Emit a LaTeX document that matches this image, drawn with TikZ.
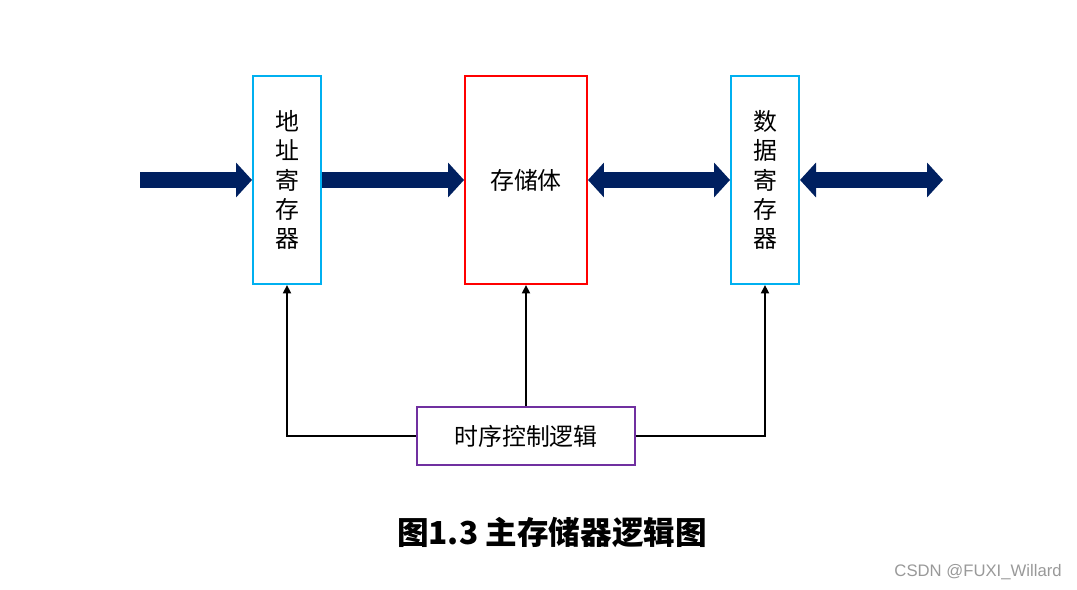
\documentclass[tikz,border=0pt]{standalone}
\usepackage{fontspec}
\setmainfont{Liberation Sans}
\newfontfamily\cjk{Noto Sans CJK SC}
\usepackage{tikz}
\usetikzlibrary{arrows.meta, positioning}
\definecolor{regblue}{HTML}{00B0F0}
\definecolor{busnavy}{HTML}{002060}
\definecolor{ctrlpurple}{HTML}{7030A0}

\begin{document}
\begin{tikzpicture}[x=0.02cm, y=-0.02cm,
    reg/.style={draw=regblue, line width=0.04cm, minimum width=1.36cm, minimum height=4.16cm,
      inner sep=0pt, align=center, font=\cjk\fontsize{13.6}{16.6}\selectfont},
    bus/.style={busnavy, line width=0.32cm, -{Triangle[width=0.68cm, length=0.32cm]}},
    dbus/.style={busnavy, line width=0.32cm,
      {Triangle[width=0.68cm, length=0.32cm]}-{Triangle[width=0.68cm, length=0.32cm]}},
    ctl/.style={line width=0.055cm, -{Triangle[width=0.16cm, length=0.17cm]}}]
  \useasboundingbox (0,0) rectangle (1077,590);
  \node[reg] (addr) at (287,180) {地\\址\\寄\\存\\器};
  \node[reg, draw=red, minimum width=2.44cm] (mem) at (526,180) {存储体};
  \node[reg] (data) at (765,180) {数\\据\\寄\\存\\器};
  \node[draw=ctrlpurple, line width=0.04cm, minimum width=4.38cm, minimum height=1.16cm,
    font=\cjk\fontsize{13.6}{16.4}\selectfont] (ctrl) at (526,436) {时序控制逻辑};
  \coordinate (ain) at (140,180);
  \coordinate (dout) at (943,180);
  % buses
  \draw[bus] (ain) -- (addr.west);
  \draw[bus] (addr.east) -- (mem.west);
  \draw[dbus] (mem.east) -- (data.west);
  \draw[dbus] (data.east) -- (dout);
  % control lines
  \draw[ctl] (ctrl.west) -| (addr.south);
  \draw[ctl] (ctrl.north) -- (mem.south);
  \draw[ctl] (ctrl.east) -| (data.south);
  \node[font=\cjk\bfseries\fontsize{18}{21}\selectfont] (cap) at (552,533) {图1.3 主存储器逻辑图};
  \node[text=black!40, inner sep=0pt, font=\fontsize{9.5}{11}\selectfont, anchor=east] (mark) at (1062,572) {CSDN @FUXI\_Willard};
\end{tikzpicture}
\end{document}
